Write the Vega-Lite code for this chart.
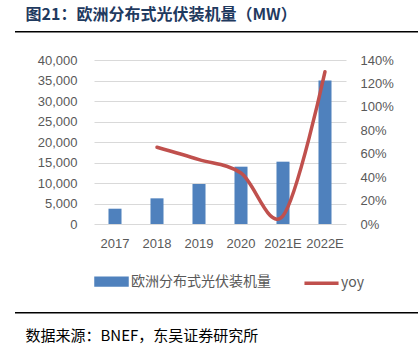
{
  "$schema": "https://vega.github.io/schema/vega-lite/v6.json",
  "padding": {"left": 15, "top": 6, "right": 2, "bottom": 0},
  "background": "white",
  "config": {
    "view": {"stroke": null},
    "axis": {"labelFont": "Liberation Sans", "labelFontSize": 13, "labelColor": "#595959"}
  },
  "spacing": 21,
  "resolve": {
    "scale": {"x": "independent", "y": "independent", "color": "independent"},
    "axis": {"x": "independent", "y": "independent"},
    "legend": {"color": "independent"}
  },
  "vconcat": [
    {
      "width": 403,
      "height": 1.5,
      "data": {"values": [{"k": "header"}]},
      "mark": {"type": "bar", "color": "#000000"},
      "encoding": {
        "x": {
          "field": "k",
          "type": "nominal",
          "scale": {"paddingInner": 0, "paddingOuter": 0},
          "axis": {
            "orient": "top",
            "domain": false,
            "ticks": false,
            "labels": false,
            "grid": false,
            "title": "图21：欧洲分布式光伏装机量（MW）",
            "titleAnchor": "start",
            "titleAlign": "left",
            "titleX": 10,
            "titleY": -17,
            "titleBaseline": "middle",
            "titleFont": "Noto Sans CJK SC",
            "titleFontSize": 16,
            "titleFontWeight": "bold",
            "titleColor": "#1F3A5F"
          }
        }
      }
    },
    {
      "spacing": 20,
      "resolve": {
        "scale": {"x": "independent", "y": "independent", "color": "independent"},
        "axis": {"x": "independent", "y": "independent"},
        "legend": {"color": "independent"}
      },
      "vconcat": [
        {
          "spacing": 0,
          "resolve": {
            "scale": {"x": "independent", "y": "independent", "color": "independent"},
            "axis": {"x": "independent", "y": "independent"},
            "legend": {"color": "independent"}
          },
          "hconcat": [
            {
              "width": 22,
              "height": 164,
              "data": {"values": []},
              "mark": {"type": "point", "opacity": 0},
              "encoding": {}
            },
            {
              "width": 252,
              "height": 164,
              "data": {
                "values": [
                  {"year": "2017", "value": 3730, "yoy": null},
                  {"year": "2018", "value": 6260, "yoy": 0.655},
                  {"year": "2019", "value": 9760, "yoy": 0.55},
                  {"year": "2020", "value": 13980, "yoy": 0.435},
                  {"year": "2021E", "value": 15200, "yoy": 0.07},
                  {"year": "2022E", "value": 35000, "yoy": 1.3}
                ]
              },
              "layer": [
                {
                  "mark": {"type": "bar"},
                  "encoding": {
                    "x": {
                      "field": "year",
                      "type": "nominal",
                      "sort": null,
                      "scale": {"paddingInner": 0.69, "paddingOuter": 0.345},
                      "axis": {
                        "title": null,
                        "labelAngle": 0,
                        "ticks": false,
                        "domain": false,
                        "labelPadding": 13
                      }
                    },
                    "y": {
                      "field": "value",
                      "type": "quantitative",
                      "scale": {"domain": [0, 40000]},
                      "axis": {
                        "title": null,
                        "values": [0, 5000, 10000, 15000, 20000, 25000, 30000, 35000, 40000],
                        "format": ",.0f",
                        "domain": false,
                        "ticks": false,
                        "labelPadding": 17,
                        "grid": true,
                        "gridColor": "#D9D9D9",
                        "gridWidth": 1
                      }
                    },
                    "color": {
                      "datum": "欧洲分布式光伏装机量",
                      "type": "nominal",
                      "scale": {
                        "domain": ["欧洲分布式光伏装机量", "yoy"],
                        "range": ["#4F81BD", "#C0504D"]
                      },
                      "legend": {
                        "orient": "bottom",
                        "direction": "horizontal",
                        "title": null,
                        "offset": 14,
                        "symbolSize": 961,
                        "symbolStrokeWidth": 3.5,
                        "columnPadding": 26,
                        "labelFont": "Noto Sans CJK SC",
                        "labelFontSize": 14,
                        "labelColor": "#595959",
                        "labelOffset": 2,
                        "encode": {
                          "symbols": {
                            "update": {
                              "shape": {"signal": "datum.value === 'yoy' ? 'M-1.1,0H1.1' : 'M-1,-0.22H1V0.22H-1Z'"},
                              "size": {"value": 961},
                              "strokeWidth": {"value": 3.5},
                              "fill": {"signal": "datum.value === 'yoy' ? 'transparent' : '#4F81BD'"},
                              "stroke": {"signal": "datum.value === 'yoy' ? '#C0504D' : 'transparent'"},
                              "opacity": {"value": 1}
                            }
                          }
                        }
                      }
                    }
                  }
                },
                {
                  "transform": [{"filter": "datum.yoy != null"}],
                  "mark": {"type": "line", "interpolate": "cardinal", "strokeWidth": 3.5, "strokeCap": "round"},
                  "encoding": {
                    "x": {"field": "year", "type": "nominal", "sort": null},
                    "y": {
                      "field": "yoy",
                      "type": "quantitative",
                      "scale": {"domain": [0, 1.4]},
                      "axis": {
                        "orient": "right",
                        "title": null,
                        "values": [0, 0.2, 0.4, 0.6, 0.8, 1.0, 1.2, 1.4],
                        "format": ".0%",
                        "domain": false,
                        "ticks": false,
                        "grid": false,
                        "labelPadding": 14
                      }
                    },
                    "color": {"datum": "yoy", "type": "nominal"}
                  }
                }
              ],
              "resolve": {"scale": {"y": "independent"}}
            }
          ]
        },
        {
          "width": 403,
          "height": 1.5,
          "data": {"values": [{"k": "footer"}]},
          "mark": {"type": "bar", "color": "#000000"},
          "encoding": {
            "x": {
              "field": "k",
              "type": "nominal",
              "scale": {"paddingInner": 0, "paddingOuter": 0},
              "axis": {
                "orient": "bottom",
                "domain": false,
                "ticks": false,
                "labels": false,
                "grid": false,
                "title": "数据来源：BNEF，东吴证券研究所",
                "titleAnchor": "start",
                "titleAlign": "left",
                "titleX": 10,
                "titleY": 22,
                "titleBaseline": "middle",
                "titleFont": "Noto Sans CJK SC",
                "titleFontSize": 15,
                "titleFontWeight": "normal",
                "titleColor": "#000000"
              }
            }
          }
        }
      ]
    }
  ]
}
